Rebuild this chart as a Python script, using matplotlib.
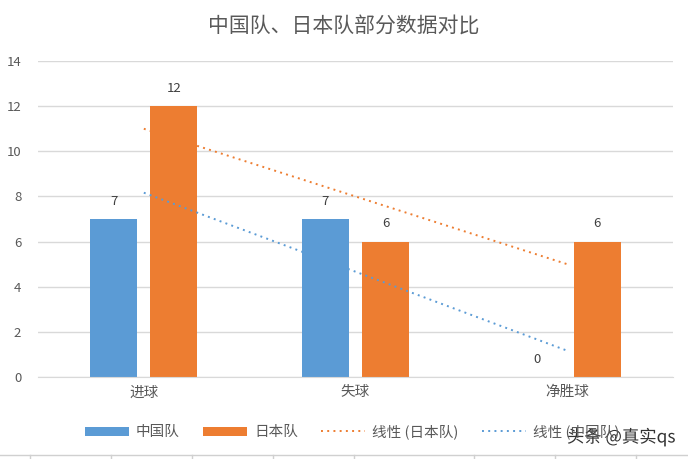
import numpy as np
import matplotlib.pyplot as plt
import matplotlib.patheffects as pe
from matplotlib.lines import Line2D

plt.rcParams['font.family'] = ['Noto Sans CJK SC', 'DejaVu Sans']

# 数据
categories = ['进球', '失球', '净胜球']
china = [7, 7, 0]
japan = [12, 6, 6]

blue = '#5b9bd5'
orange = '#ed7d31'
grey_txt = '#595959'

fig = plt.figure(figsize=(6.88, 4.59), dpi=100)
ax = fig.add_axes([0.0552, 0.1786, 0.9230, 0.6884])

x = np.arange(len(categories))
w = 0.222
off = 0.142

b1 = ax.bar(x - off, china, w, color=blue, label='中国队', zorder=2)
b2 = ax.bar(x + off, japan, w, color=orange, label='日本队', zorder=2)

# 线性趋势线
xt = np.array([0, 2])
kj = np.polyfit(x, japan, 1)
kc = np.polyfit(x, china, 1)
ax.plot(xt, np.polyval(kj, xt), color=orange, lw=1.4, ls=(0, (1, 2.2)),
        label='线性 (日本队)', zorder=3)
ax.plot(xt, np.polyval(kc, xt), color=blue, lw=1.4, ls=(0, (1, 2.2)),
        label='线性 (中国队)', zorder=3)

# 数据标签
for bars in (b1, b2):
    for r in bars:
        h = r.get_height()
        ax.annotate(str(int(h)), (r.get_x() + r.get_width() / 2, h),
                    xytext=(0, 8), textcoords='offset points',
                    ha='center', va='bottom', fontsize=9.5, color='#404040')

ax.set_xlim(-0.5, 2.5)
ax.set_ylim(0, 14)
ax.set_yticks(range(0, 15, 2))
ax.set_xticks(x)
ax.set_xticklabels(categories, fontsize=10.5, color=grey_txt)
ax.tick_params(axis='y', labelsize=9.5, labelcolor=grey_txt, length=0, pad=12)
ax.tick_params(axis='x', length=0, pad=6)
ax.grid(axis='y', color='#d9d9d9', lw=1, zorder=0)
ax.set_axisbelow(True)
for s in ('top', 'right', 'left'):
    ax.spines[s].set_visible(False)
ax.spines['bottom'].set_color('#d9d9d9')

fig.text(0.5, 0.945, '中国队、日本队部分数据对比', ha='center', va='center',
         fontsize=15, color=grey_txt)

handles, labels = ax.get_legend_handles_labels()
order = [2, 3, 0, 1]
handles = [handles[i] for i in order]
labels = [labels[i] for i in order]
leg = fig.legend(handles, labels, loc='center', bbox_to_anchor=(0.512, 0.059),
                 ncol=4, frameon=False, fontsize=10.5, handlelength=3.0,
                 handleheight=0.6, columnspacing=1.6, handletextpad=0.5)
for t in leg.get_texts():
    t.set_color(grey_txt)

# 底部表格线
fig.lines.append(Line2D([0, 1], [0.009, 0.009], transform=fig.transFigure,
                        color='#d0d0d0', lw=1))
for px in [30, 111, 192, 273, 354, 474, 555, 636]:
    fig.lines.append(Line2D([px / 688, px / 688], [0, 0.009],
                            transform=fig.transFigure, color='#d0d0d0', lw=1))

# 水印
fig.text(0.982, 0.048, '头条 @真实qs', ha='right', va='center', fontsize=12.5,
         color='#333333',
         path_effects=[pe.withStroke(linewidth=2.5, foreground='white')])

fig.savefig('out.png', dpi=100)
